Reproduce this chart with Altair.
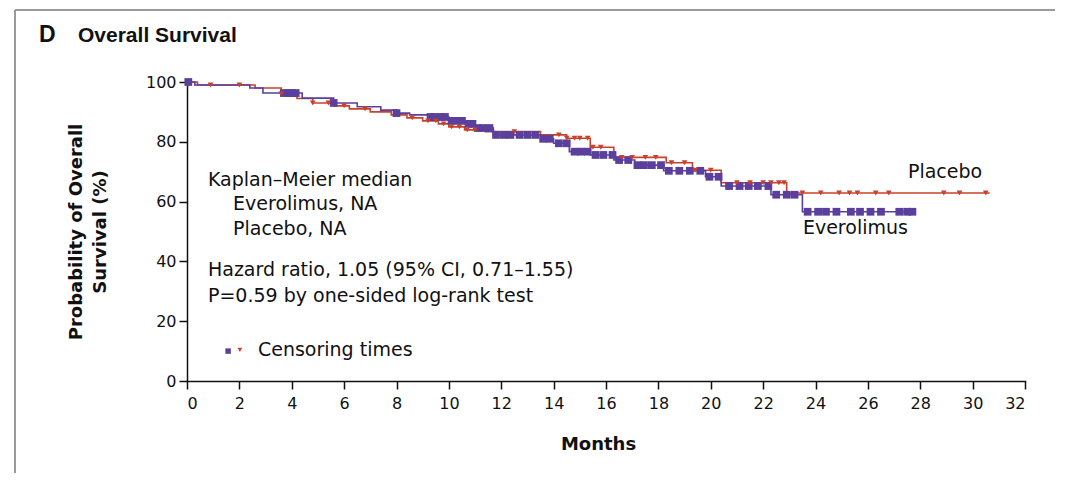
import altair as alt
import pandas as pd

# ---- Kaplan-Meier step points (months, % surviving) ----
evero_t = [0, 0.3, 2.4, 2.9, 4.4, 5.6, 6.5, 7.4, 8.0, 8.5, 9.3, 10.0, 10.6, 11.0, 11.7,
           13.5, 14.0, 14.6, 15.4, 16.3, 17.1, 18.2, 19.8, 20.4, 22.3, 23.5, 27.8]
evero_s = [100, 99, 98, 96.3, 94.6, 93, 91.7, 90.6, 89.6, 89, 88.3, 87, 86, 84.6, 82.3,
           81, 79.5, 76.7, 75.6, 73.9, 72.2, 70.3, 68.3, 65.2, 62.3, 56.6, 56.6]
plac_t = [0, 0.4, 2.6, 3.6, 4.2, 4.8, 5.6, 6.2, 7.0, 7.8, 8.4, 9.0, 9.6, 10.0, 10.6,
          11.4, 13.5, 14.5, 15.4, 16.3, 18.3, 19.3, 20.4, 22.9, 30.65]
plac_s = [100, 99, 98, 96, 94.5, 93, 92, 91, 90, 89, 88, 87, 86, 85, 84,
          83.4, 82.3, 81.2, 78.2, 74.8, 73, 70.5, 66.3, 62.9, 62.9]

# ---- censoring times (months) ----
evero_cens = [0.05, 3.7, 3.85, 4.0, 4.15, 5.6, 8.0, 9.3, 9.45, 9.7, 9.85, 10.1, 10.3, 10.5,
              10.75, 10.9, 11.1, 11.3, 11.55, 11.8, 12.1, 12.35, 12.7, 13.0, 13.3, 13.6,
              13.85, 14.2, 14.5, 14.8, 15.05, 15.3, 15.6, 15.9, 16.25, 16.5, 16.85, 17.2,
              17.45, 17.75, 18.1, 18.4, 18.8, 19.2, 19.6, 19.95, 20.3, 20.7, 21.1, 21.45,
              21.8, 22.2, 22.5, 22.9, 23.2, 23.7, 24.1, 24.4, 24.8, 25.35, 25.7, 26.1,
              26.5, 27.2, 27.5, 27.7]
plac_cens = [0.9, 2.0, 3.6, 4.8, 5.4, 6.0, 6.8, 8.6, 9.2, 9.5, 9.8, 10.1, 10.4, 10.7, 11.0,
             12.5, 14.2, 14.5, 14.8, 15.0, 15.3, 15.5, 15.8, 16.6, 17.0, 17.5, 17.9, 18.5,
             19.0, 19.4, 20.0, 21.0, 21.5, 22.0, 22.3, 22.6, 22.8, 23.5, 24.2, 24.9, 25.3,
             25.6, 26.3, 26.8, 28.9, 29.5, 30.5]

x_ticks = list(range(0, 33, 2))
y_ticks = [0, 20, 40, 60, 80, 100]

PURPLE = "#5a3f9c"
RED = "#c9412b"
FONT = "DejaVu Sans"


def step_value(times, surv, t):
    v = surv[0]
    for ti, si in zip(times, surv):
        if ti <= t:
            v = si
    return v


curves = pd.concat([
    pd.DataFrame({"month": plac_t, "pct": plac_s, "group": "Placebo", "order": 0}),
    pd.DataFrame({"month": evero_t, "pct": evero_s, "group": "Everolimus", "order": 1}),
])
ev_c = pd.DataFrame({"month": evero_cens,
                     "pct": [step_value(evero_t, evero_s, t) for t in evero_cens]})
pl_c = pd.DataFrame({"month": plac_cens,
                     "pct": [step_value(plac_t, plac_s, t) for t in plac_cens]})

xs = alt.Scale(domain=[0, 32], nice=False)
ys = alt.Scale(domain=[0, 100], nice=False)

base_x = alt.X("month:Q", scale=xs,
               axis=alt.Axis(values=x_ticks, title="Months", format="d", titleX=411))
base_y = alt.Y("pct:Q", scale=ys,
               axis=alt.Axis(values=y_ticks, title=["Probability of Overall", "Survival (%)"]))

lines = alt.Chart(curves).mark_line(interpolate="step-after", strokeWidth=1.6).encode(
    x=base_x, y=base_y, detail="group:N",
    color=alt.Color("group:N", scale=alt.Scale(domain=["Everolimus", "Placebo"],
                                               range=[PURPLE, RED]), legend=None),
    order="order:Q",
)

sq = alt.Chart(ev_c).mark_point(shape="square", filled=True, size=60, opacity=1,
                                color=PURPLE).encode(x="month:Q", y="pct:Q")
tri = alt.Chart(pl_c).mark_point(shape="triangle-down", filled=True, size=32, opacity=1,
                                 color=RED).encode(x="month:Q", y="pct:Q")

# annotation texts in data space
ann_month = [0.8, 1.76, 1.76, 0.8, 0.8, 2.71]
ann_pct = [67.2, 59.2, 50.8, 37.1, 28.4, 10.4]
ann_text = ["Kaplan\u2013Meier median", "Everolimus, NA", "Placebo, NA",
            "Hazard ratio, 1.05 (95% CI, 0.71\u20131.55)",
            "P=0.59 by one-sided log-rank test", "Censoring times"]
ann = alt.Chart(pd.DataFrame({"month": ann_month, "pct": ann_pct, "t": ann_text})).mark_text(
    align="left", baseline="middle", font=FONT, fontSize=19, color="#111"
).encode(x="month:Q", y="pct:Q", text="t:N")

lab_month = [27.53, 23.52]
lab_pct = [69.9, 51.2]
lab_text = ["Placebo", "Everolimus"]
labs = alt.Chart(pd.DataFrame({"month": lab_month, "pct": lab_pct, "t": lab_text})).mark_text(
    align="left", baseline="middle", font=FONT, fontSize=19, color="#111"
).encode(x="month:Q", y="pct:Q", text="t:N")

leg_sq = alt.Chart(pd.DataFrame({"month": [1.57], "pct": [10.0]})).mark_point(
    shape="square", filled=True, size=30, opacity=1, color=PURPLE).encode(x="month:Q", y="pct:Q")
leg_tri = alt.Chart(pd.DataFrame({"month": [2.02], "pct": [10.4]})).mark_point(
    shape="triangle-down", filled=True, size=22, opacity=1, color=RED).encode(x="month:Q", y="pct:Q")

# panel heading and frame (outside plot area)
head_d = alt.Chart(pd.DataFrame({"t": ["D"]})).mark_text(
    align="left", baseline="middle", font="Liberation Sans", fontSize=23, fontWeight="bold",
    color="#111").encode(x=alt.value(-148), y=alt.value(-47), text="t:N")
head_t = alt.Chart(pd.DataFrame({"t": ["Overall Survival"]})).mark_text(
    align="left", baseline="middle", font="Liberation Sans", fontSize=21, fontWeight="bold",
    color="#111").encode(x=alt.value(-109), y=alt.value(-46), text="t:N")
frame_top = alt.Chart(pd.DataFrame({"a": [0]})).mark_rule(color="#9a9a9a", strokeWidth=2).encode(
    x=alt.value(-172), x2=alt.value(880), y=alt.value(-72))
frame_left = alt.Chart(pd.DataFrame({"a": [0]})).mark_rule(color="#9a9a9a", strokeWidth=2).encode(
    x=alt.value(-172), y=alt.value(-72), y2=alt.value(420))

chart = alt.layer(
    frame_top, frame_left, head_d, head_t,
    lines, sq, tri, ann, labs, leg_sq, leg_tri
).properties(
    width=838, height=299,
    padding={"left": 179, "top": 74, "right": 30, "bottom": 92},
    autosize=alt.AutoSizeParams(type="none"),
).configure_view(stroke=None).configure_axis(
    labelFont=FONT, labelFontSize=16, labelColor="#111",
    titleFont=FONT, titleFontSize=18, titleFontWeight="bold", titleColor="#111",
    domainColor="#111", domainWidth=1.5, tickColor="#111", tickWidth=1.5, tickSize=8,
    grid=False,
).configure_axisX(labelPadding=6, titlePadding=24, domainCap="square").configure_axisY(
    labelPadding=3, titlePadding=36, titleLineHeight=24)

chart.save("out.html", embed_options={"renderer": "svg", "actions": False})
